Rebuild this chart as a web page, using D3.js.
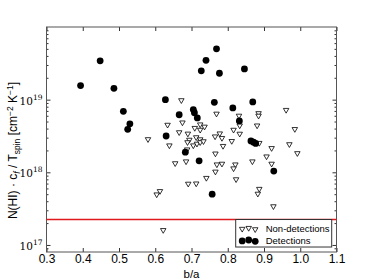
<!DOCTYPE html>
<html>
<head>
<meta charset="utf-8">
<script src="https://cdn.jsdelivr.net/npm/d3@7"></script>
<style>
	body { margin: 0; background: #fff; }
	svg { display: block; }
	.axis path, .axis line { stroke: #333; }
</style>
</head>
<body>
<div id="chart"></div>
<script>
// detections (filled circles)
var detBA = [0.394, 0.448, 0.486, 0.512, 0.530, 0.524, 0.628, 0.769, 0.740, 0.727, 0.777, 0.846, 0.763, 0.869,
	0.814, 0.705, 0.708, 0.666, 0.716, 0.832, 0.630, 0.683, 0.721, 0.757, 0.864, 0.871, 0.877, 0.927];
var detN = [1.56e19, 3.42e19, 1.43e19, 6.9e18, 4.65e18, 3.9e18, 1.0e19, 5.0e19, 3.48e19, 2.49e19, 2.31e19, 2.65e19, 9.2e18, 9.3e18,
	7.7e18, 7.3e18, 6.6e18, 6.2e18, 5.6e18, 5.1e18, 3.16e18, 1.89e18, 1.44e18, 5.0e17, 2.7e18, 2.6e18, 2.5e18, 1.04e18];

// non-detections (open triangles)
var nonBA = [0.672, 0.769, 0.961, 0.885, 0.885, 0.831, 0.675, 0.634, 0.724, 0.736, 0.709, 0.724, 0.666, 0.690, 0.778,
	0.765, 0.784, 0.580, 0.816, 0.833, 0.881, 0.985, 0.833, 0.811, 0.713, 0.724, 0.694, 0.887, 0.970, 0.921,
	0.992, 0.907, 0.921, 0.868, 0.821, 0.816, 0.784, 0.770, 0.787, 0.766, 0.766, 0.823, 0.887, 0.883, 0.926,
	0.639, 0.655, 0.685, 0.688, 0.689, 0.705, 0.715, 0.724, 0.733, 0.741, 0.713, 0.691, 0.613, 0.604, 0.622];
var nonN = [9.8e18, 6.4e18, 7.2e18, 6.5e18, 6.0e18, 6.0e18, 4.84e18, 4.5e18, 4.55e18, 4.24e18, 4.07e18, 3.84e18, 3.55e18, 3.4e18, 3.42e18,
	3.11e18, 2.96e18, 2.85e18, 3.84e18, 4.4e18, 4.4e18, 3.93e18, 3.39e18, 2.69e18, 3.03e18, 2.84e18, 2.8e18, 2.53e18, 2.43e18, 2.15e18,
	1.83e18, 1.65e18, 1.31e18, 1.41e18, 1.28e18, 1.13e18, 1.31e18, 1.28e18, 2.3e18, 1.81e18, 1.02e18, 8.0e17, 5.9e17, 5.06e17, 3.4e17,
	2.34e18, 1.33e18, 1.41e18, 2.06e18, 2.59e18, 2.34e18, 2.47e18, 2.59e18, 2.67e18, 8.35e17, 7.0e17, 6.95e17, 5.5e17, 4.95e17, 1.6e17];

var limitN = 2.24e17;

var xTicks = [0.3, 0.4, 0.5, 0.6, 0.7, 0.8, 0.9, 1.0, 1.1];
var yTicks = [1e17, 1e18, 1e19];
var yExp = ["17", "18", "19"];
var legendLabels = ["Non-detections", "Detections"];

var width = 374, height = 280;
var padding = {left: 46.5, right: 37.5, top: 27, bottom: 28};
var w = width - padding.left - padding.right;
var h = height - padding.top - padding.bottom;

var svg = d3.select("#chart")
	.append("svg")
	.attr("width", width)
	.attr("height", height);

var xScale = d3.scaleLinear().domain([0.3, 1.1]).range([0, w]);
var yScale = d3.scaleLog().domain([8e16, 1e20]).range([h, 0]);

// minor log ticks
var minor = [];
[16, 17, 18, 19].forEach(function(e){
	for (var k = 2; k <= 9; k++) {
		var v = k * Math.pow(10, e);
		if (v > 8e16 && v < 1e20) minor.push(v);
	}
});

var g = svg.append("g")
	.attr("transform", "translate(" + padding.left + "," + padding.top + ")");

// ticks pointing inward on all sides
g.append("g").attr("class", "axis")
	.attr("transform", "translate(0," + h + ")")
	.call(d3.axisBottom(xScale).tickValues(xTicks).tickSizeInner(-4).tickSizeOuter(0).tickPadding(2.5)
		.tickFormat(d3.format(".1f")))
	.call(function(s){
		s.selectAll("text").attr("font-family", "Liberation Sans, Arial, sans-serif").attr("font-size", 12).attr("fill", "#000");
		s.select(".domain").remove();
	});

g.append("g").attr("class", "axis")
	.call(d3.axisTop(xScale).tickValues(xTicks).tickSizeInner(-4).tickSizeOuter(0).tickFormat(""))
	.call(function(s){ s.select(".domain").remove(); });

var yLeft = g.append("g").attr("class", "axis")
	.call(d3.axisLeft(yScale).tickValues(yTicks).tickSizeInner(-4).tickSizeOuter(0).tickPadding(5).tickFormat(""));
yLeft.select(".domain").remove();

g.append("g").attr("class", "axis")
	.call(d3.axisLeft(yScale).tickValues(minor).tickSizeInner(-2).tickSizeOuter(0).tickFormat(""))
	.call(function(s){ s.select(".domain").remove(); });

g.append("g").attr("class", "axis")
	.attr("transform", "translate(" + w + ",0)")
	.call(d3.axisRight(yScale).tickValues(yTicks).tickSizeInner(-4).tickSizeOuter(0).tickFormat(""))
	.call(function(s){ s.select(".domain").remove(); });

g.append("g").attr("class", "axis")
	.attr("transform", "translate(" + w + ",0)")
	.call(d3.axisRight(yScale).tickValues(minor).tickSizeInner(-2).tickSizeOuter(0).tickFormat(""))
	.call(function(s){ s.select(".domain").remove(); });

// y tick labels as 10^n
var yLab = g.append("g").selectAll("text")
	.data(yTicks)
	.enter()
	.append("text")
	.attr("x", -4)
	.attr("y", function(d){ return yScale(d) + 5; })
	.attr("text-anchor", "end")
	.attr("font-family", "DejaVu Serif, Liberation Serif, serif")
	.attr("font-size", 10.5);
yLab.append("tspan").text("10");
yLab.append("tspan").attr("dy", -5).attr("font-size", 7.5).text(function(d, i){ return yExp[i]; });

// frame
g.append("rect")
	.attr("width", w)
	.attr("height", h)
	.attr("fill", "none")
	.attr("stroke", "#555")
	.attr("stroke-width", 1);

var tri = d3.symbol().type(d3.symbolTriangle).size(13);

g.selectAll(".non")
	.data(nonBA)
	.enter()
	.append("path")
	.attr("class", "non")
	.attr("d", tri)
	.attr("transform", function(d, i){
		return "translate(" + xScale(d) + "," + yScale(nonN[i]) + ") rotate(180)";
	})
	.attr("fill", "#fff")
	.attr("stroke", "#000")
	.attr("stroke-width", 0.8);

g.selectAll(".det")
	.data(detBA)
	.enter()
	.append("circle")
	.attr("class", "det")
	.attr("cx", function(d){ return xScale(d); })
	.attr("cy", function(d, i){ return yScale(detN[i]); })
	.attr("r", 3.4)
	.attr("fill", "#000");

// limit line
g.append("line")
	.attr("x1", 0)
	.attr("x2", w)
	.attr("y1", yScale(limitN))
	.attr("y2", yScale(limitN))
	.attr("stroke", "#e0191e")
	.attr("stroke-width", 1.3);

// legend
var lg = g.append("g")
	.attr("transform", "translate(" + (235.7 - padding.left) + "," + yScale(limitN) + ")");

lg.append("rect")
	.attr("width", 96)
	.attr("height", 27.5)
	.attr("fill", "#fff")
	.attr("stroke", "#333")
	.attr("stroke-width", 1);

var offs = [0.4, -0.5, 0.8];
offs.forEach(function(o, i){
	lg.append("path")
		.attr("d", tri)
		.attr("transform", "translate(" + (6.5 + i * 6.5) + "," + (9 + o) + ") rotate(180)")
		.attr("fill", "#fff")
		.attr("stroke", "#000")
		.attr("stroke-width", 0.8);
	lg.append("circle")
		.attr("cx", 6.5 + i * 6.5)
		.attr("cy", 21 + o)
		.attr("r", 3.4)
		.attr("fill", "#000");
});

lg.selectAll(".lt")
	.data(legendLabels)
	.enter()
	.append("text")
	.attr("class", "lt")
	.attr("x", 30)
	.attr("y", function(d, i){ return 12.3 + i * 12.3; })
	.attr("font-family", "Liberation Sans, Arial, sans-serif")
	.attr("font-size", 9.5)
	.text(function(d){ return d; });

// axis labels
svg.append("text")
	.attr("x", padding.left + w / 2)
	.attr("y", 277.5)
	.attr("text-anchor", "middle")
	.attr("font-family", "Liberation Sans, Arial, sans-serif")
	.attr("font-size", 11.5)
	.text("b/a");

var yl = svg.append("text")
	.attr("transform", "translate(17," + (padding.top + h / 2 + 11) + ") rotate(-90)")
	.attr("text-anchor", "middle")
	.attr("font-family", "Liberation Sans, Arial, sans-serif")
	.attr("font-size", 12);
yl.append("tspan").text("N(HI) \u00b7 c");
yl.append("tspan").attr("dy", 2.5).attr("font-size", 8.5).attr("font-style", "italic").text("f");
yl.append("tspan").attr("dy", -2.5).text(" / T");
yl.append("tspan").attr("dy", 2.5).attr("font-size", 8.5).text("spin");
yl.append("tspan").attr("dy", -2.5).text(" [cm");
yl.append("tspan").attr("dy", -4.5).attr("font-size", 8.5).text("\u22122");
yl.append("tspan").attr("dy", 4.5).text(" K");
yl.append("tspan").attr("dy", -4.5).attr("font-size", 8.5).text("\u22121");
yl.append("tspan").attr("dy", 4.5).text("]");
</script>
</body>
</html>
